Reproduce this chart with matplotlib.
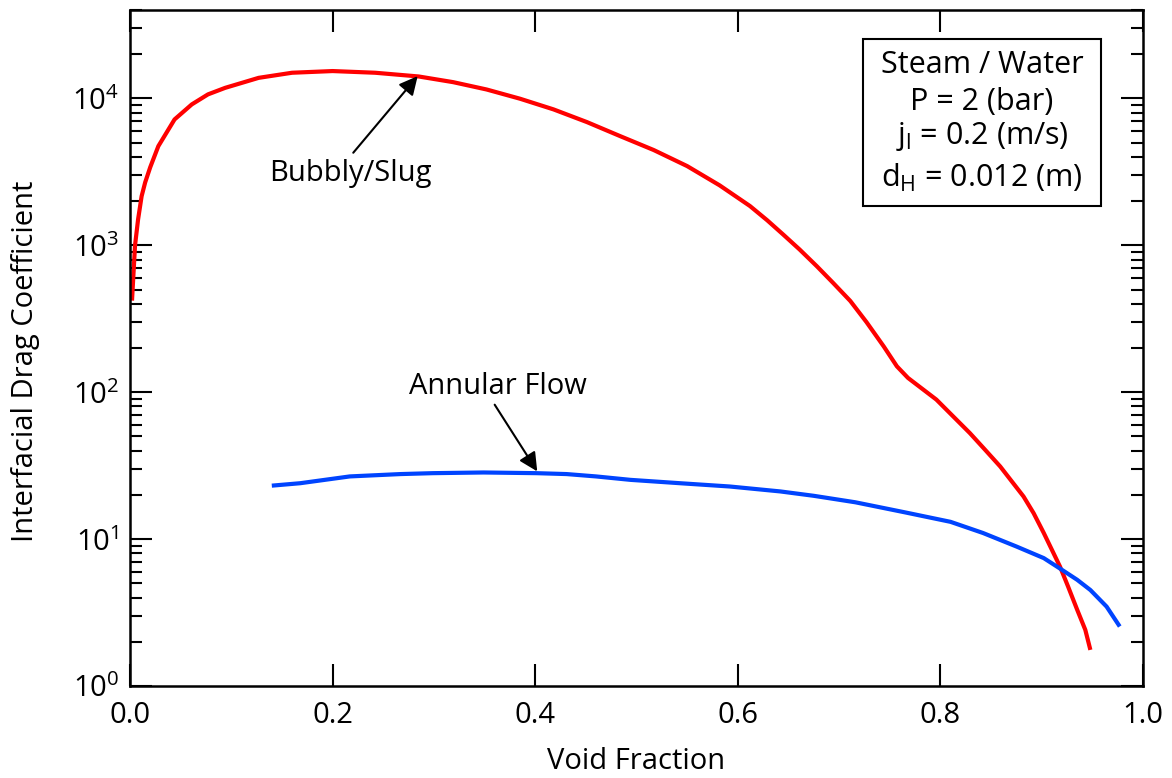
import matplotlib
matplotlib.use('Agg')
import matplotlib.pyplot as plt
from matplotlib.patches import Rectangle
from matplotlib.ticker import LogLocator, MultipleLocator, NullLocator

plt.rcParams['font.family'] = ['Open Sans', 'DejaVu Sans']
plt.rcParams['mathtext.default'] = 'regular'
plt.rcParams['font.size'] = 21

# bubbly/slug regime drag coefficient vs void fraction
alpha_bubbly = [0.002, 0.005, 0.008, 0.0115, 0.015, 0.020, 0.028, 0.044, 0.061,
                0.077, 0.094, 0.127, 0.160, 0.200, 0.242, 0.285, 0.319, 0.352,
                0.385, 0.418, 0.451, 0.484, 0.517, 0.550, 0.582, 0.612, 0.629,
                0.645, 0.661, 0.678, 0.694, 0.711, 0.727, 0.744, 0.757, 0.768,
                0.796, 0.829, 0.844, 0.859, 0.882, 0.892, 0.902, 0.918, 0.926,
                0.935, 0.943, 0.948]
drag_bubbly = [420, 1000, 1500, 2160, 2680, 3400, 4730, 7190, 9100,
               10650, 11800, 13800, 14950, 15350, 14950, 14100, 12900, 11500,
               9950, 8420, 6900, 5530, 4450, 3460, 2560, 1850, 1480,
               1180, 936, 720, 555, 418, 300, 205, 150, 125,
               89, 52.7, 40.6, 31.2, 19.5, 15.0, 11.0, 6.5, 4.75,
               3.3, 2.41, 1.76]

# annular regime
alpha_annular = [0.140, 0.168, 0.217, 0.267, 0.299, 0.349, 0.401, 0.431, 0.460,
                 0.494, 0.543, 0.592, 0.642, 0.675, 0.716, 0.765, 0.810, 0.842,
                 0.875, 0.902, 0.918, 0.935, 0.948, 0.964, 0.977]
drag_annular = [23.1, 24.0, 26.7, 27.7, 28.1, 28.4, 28.1, 27.7, 26.7,
                25.3, 24.0, 22.8, 21.1, 19.7, 17.8, 15.2, 13.1, 11.0,
                8.9, 7.42, 6.3, 5.28, 4.5, 3.47, 2.54]

fig = plt.figure(figsize=(11.72, 7.78), dpi=100)
ax = fig.add_axes([0.1109, 0.1183, 0.8644, 0.8689])

ax.plot(alpha_bubbly, drag_bubbly, color='#ff0000', lw=3, solid_capstyle='butt',
        solid_joinstyle='round')
ax.plot(alpha_annular, drag_annular, color='#0044ff', lw=3, solid_capstyle='butt',
        solid_joinstyle='round')

ax.set_yscale('log')
ax.set_xlim(0, 1)
ax.set_ylim(1, 4e4)
ax.xaxis.set_major_locator(MultipleLocator(0.2))
ax.xaxis.set_minor_locator(NullLocator())
ax.yaxis.set_major_locator(LogLocator(base=10, numticks=10))
ax.yaxis.set_minor_locator(LogLocator(base=10, subs=range(2, 10), numticks=20))
ax.xaxis.set_major_formatter(plt.FuncFormatter(lambda v, p: f'{v:.1f}'))

ax.tick_params(which='both', direction='in', top=True, right=True, width=1.5)
ax.tick_params(which='major', length=15.6, pad=8, labelsize=21)
ax.tick_params(axis='x', which='major', pad=11)
ax.tick_params(which='minor', length=8.4)
for s in ax.spines.values():
    s.set_linewidth(1.8)

ax.set_xlabel('Void Fraction', fontsize=21, labelpad=12)
ax.set_ylabel('Interfacial Drag Coefficient', fontsize=21)
ax.yaxis.set_label_coords(-0.089, 0.48)

# curve labels with arrows
ax.text(0.218, 3083, 'Bubbly/Slug', ha='center', va='center', fontsize=21)
ax.annotate('', xy=(0.284, 14190), xytext=(0.2204, 4266),
            arrowprops=dict(arrowstyle='-|>', color='k', lw=1.5, mutation_scale=28,
                            shrinkA=0, shrinkB=0))
ax.text(0.363, 109, 'Annular Flow', ha='center', va='center', fontsize=21)
ax.annotate('', xy=(0.402, 28.9), xytext=(0.360, 82.2),
            arrowprops=dict(arrowstyle='-|>', color='k', lw=1.5, mutation_scale=28,
                            shrinkA=0, shrinkB=0))

# conditions box
ax.add_patch(Rectangle((0.7239, 0.710), 0.2343, 0.2467, transform=ax.transAxes,
                       fill=False, ec='k', lw=1.5))
lines = ['Steam / Water', 'P = 2 (bar)', '$j_l$ = 0.2 (m/s)', '$d_H$ = 0.012 (m)']
ys = [0.9063, 0.8513, 0.8018, 0.7386]
for t, y in zip(lines, ys):
    ax.text(0.841, y, t, transform=ax.transAxes, ha='center', va='baseline', fontsize=22)

fig.savefig('out.png', dpi=100)
